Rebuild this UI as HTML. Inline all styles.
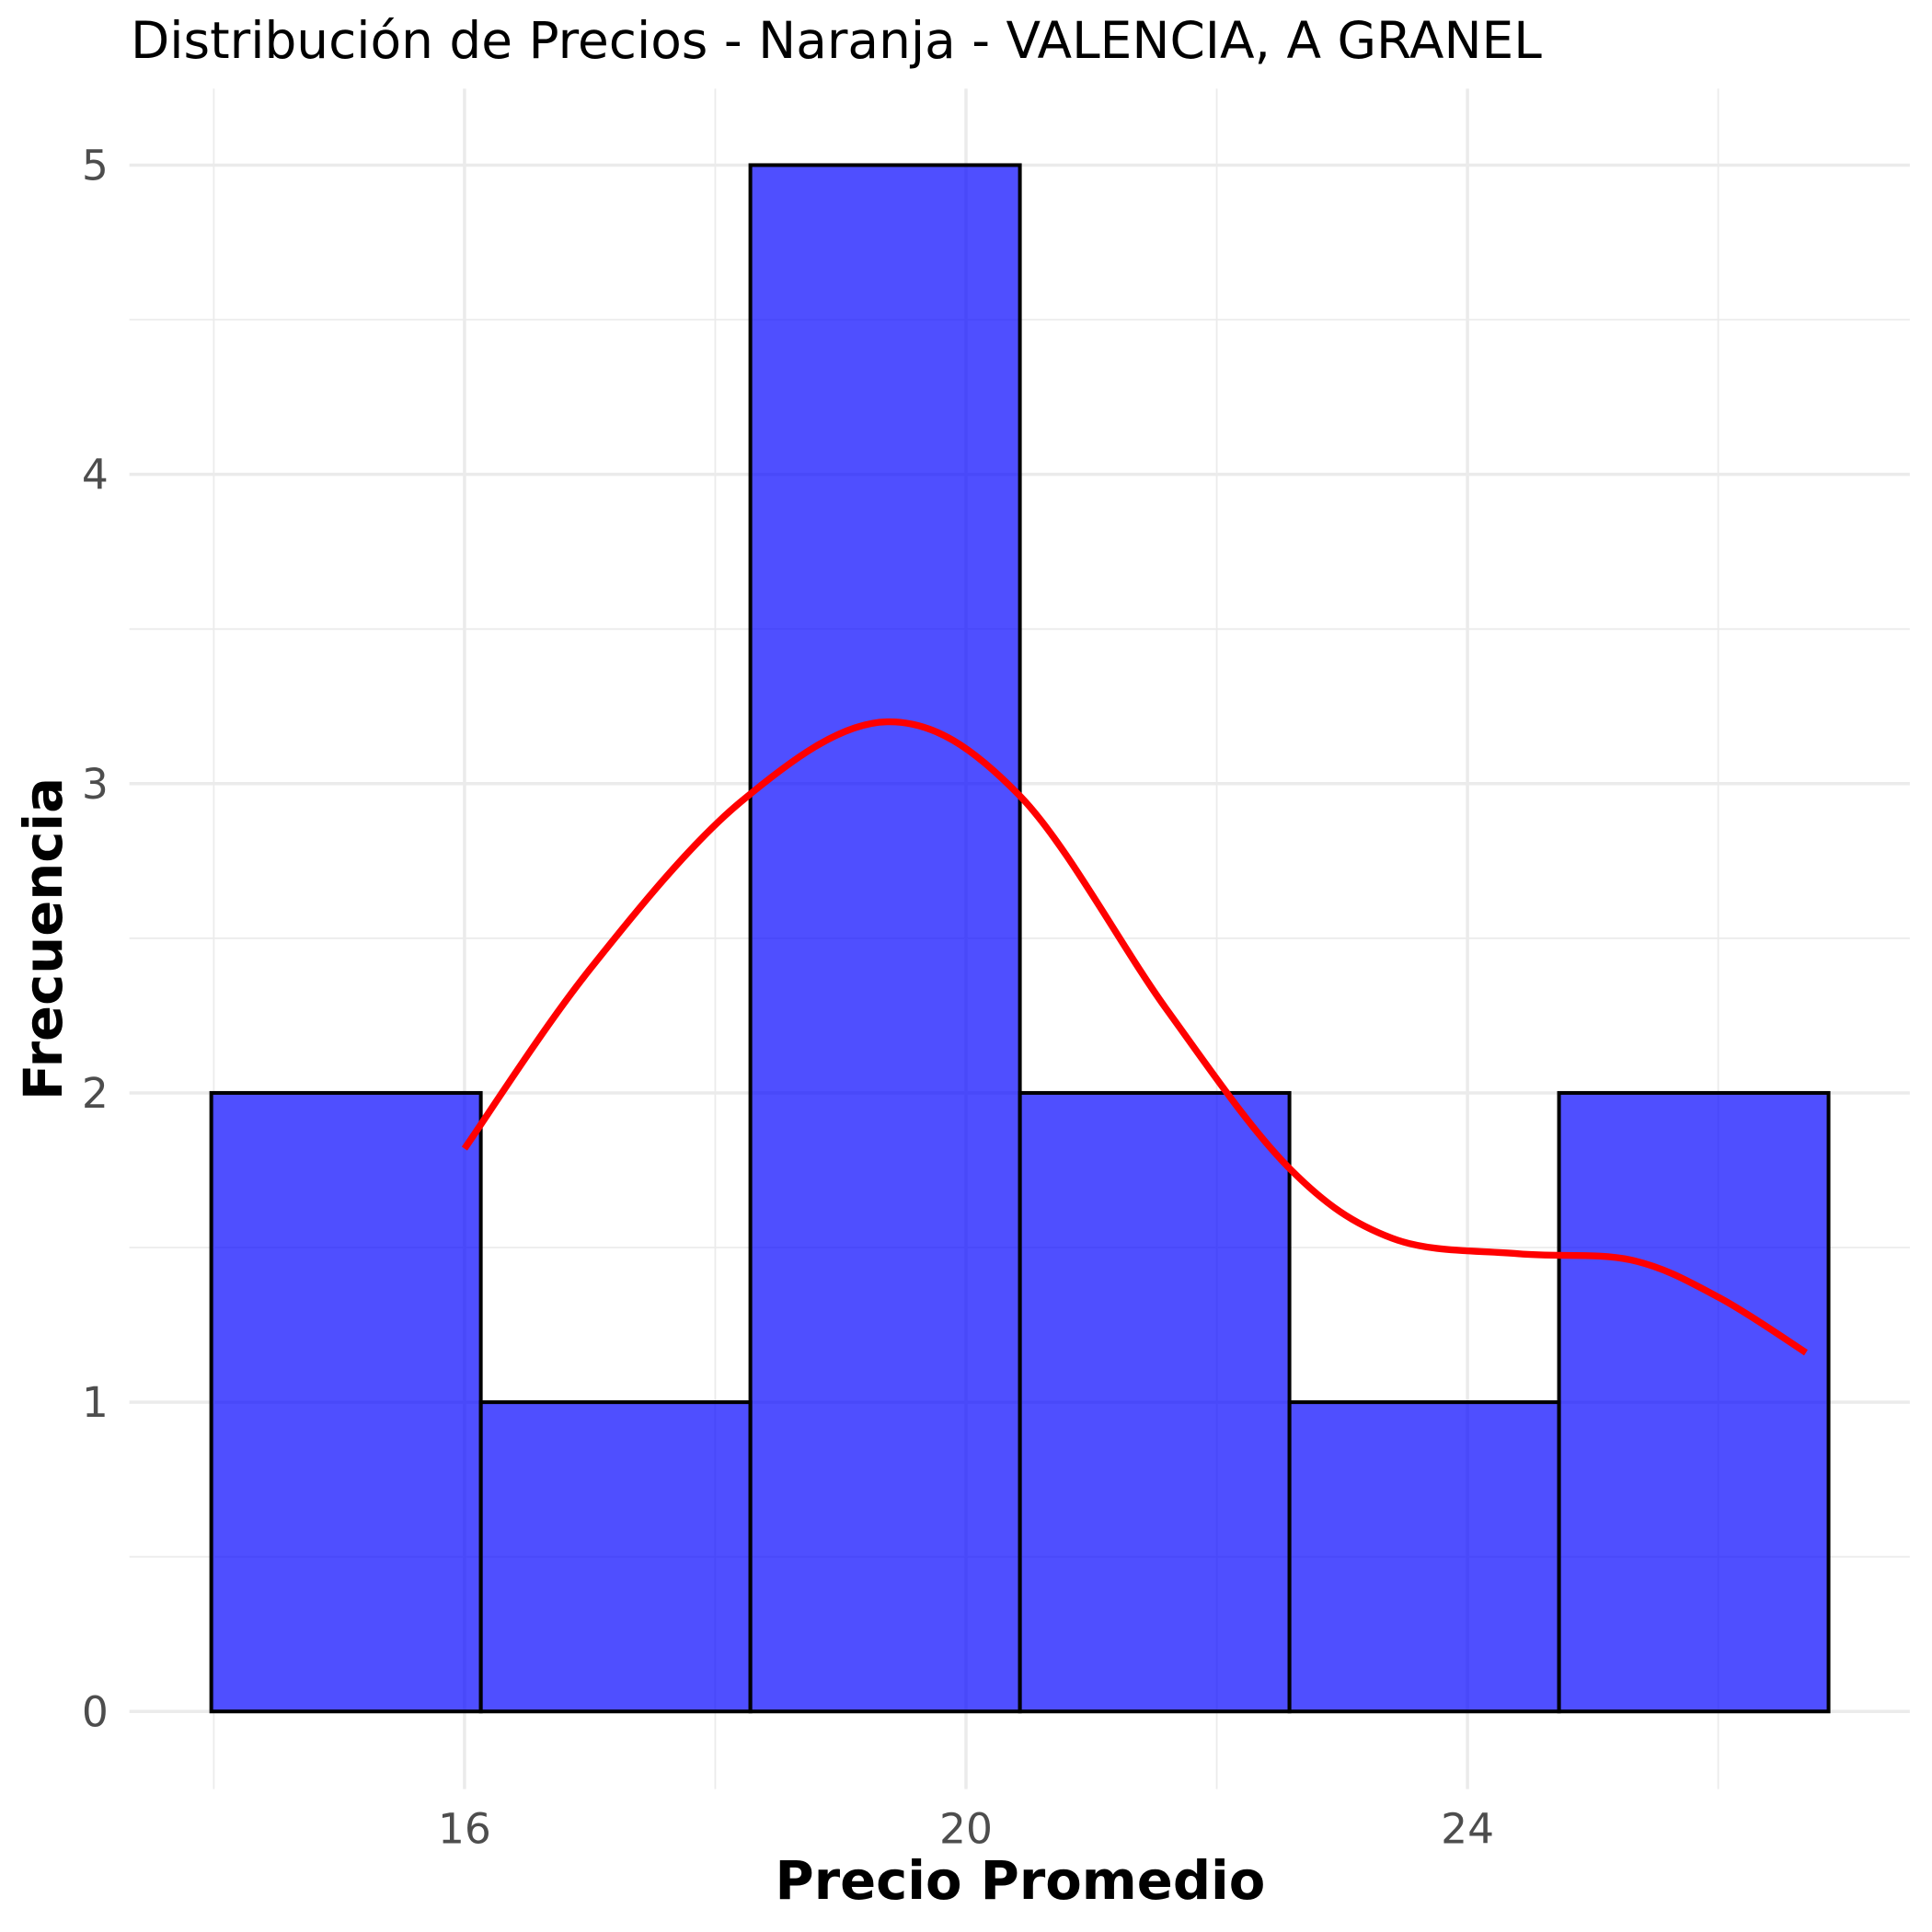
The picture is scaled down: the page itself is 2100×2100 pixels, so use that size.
<!DOCTYPE html>
<html><head><meta charset="utf-8"><style>
html,body{margin:0;padding:0;background:#fff;}
svg{display:block;font-family:"DejaVu Sans","Liberation Sans",sans-serif;}
</style></head><body>
<svg id="chart" width="2100" height="2100" viewBox="0 0 1568 1568" xmlns="http://www.w3.org/2000/svg">
<text x="106" y="47" font-size="41" fill="#000">Distribución de Precios - Naranja - VALENCIA, A GRANEL</text>
<g id="grid"></g>
<g id="bars"></g>
<g id="curve"></g>
<g id="ticks"></g>
<text x="828" y="1541" font-size="43" font-weight="bold" text-anchor="middle">Precio Promedio</text>
<text transform="translate(50,762) rotate(-90)" font-size="43" font-weight="bold" text-anchor="middle">Frecuencia</text>
</svg>
<script>
const binEdges = [13.98, 16.13, 18.28, 20.43, 22.58, 24.73, 26.88];
const counts = [2, 1, 5, 2, 1, 2];
const xTicks = [16, 20, 24];
const xMinor = [14, 18, 22, 26];
const yTicks = [0, 1, 2, 3, 4, 5];
const yMinor = [0.5, 1.5, 2.5, 3.5, 4.5];
const curveX = [16.0, 17.0, 18.2, 19.37, 20.43, 21.6, 22.57, 23.4, 24.4, 25.3, 26.0, 26.7];
const curveY = [1.82, 2.40, 2.94, 3.20, 2.96, 2.27, 1.76, 1.53, 1.48, 1.46, 1.34, 1.16];

const NS = "http://www.w3.org/2000/svg";
const xs = v => 377 + (v - 16) * (784 - 377) / 4;
const ys = v => 1389 - v * (1389 - 134) / 5;
const L = 105, R = 1550, T = 72, B = 1452;
function mk(tag, attrs, parent) {
  const e = document.createElementNS(NS, tag);
  for (const k in attrs) e.setAttribute(k, attrs[k]);
  parent.appendChild(e);
  return e;
}
const grid = document.getElementById('grid');
xMinor.forEach(v => {
  const l = mk('line', {x1: xs(v), x2: xs(v), y1: T, y2: B, stroke: '#ebebeb', 'stroke-width': 1.3}, grid);
  
  
});
yMinor.forEach(v => {
  const l = mk('line', {x1: L, x2: R, y1: ys(v), y2: ys(v), stroke: '#ebebeb', 'stroke-width': 1.3}, grid);
  
  
});
xTicks.forEach(v => {
  const l = mk('line', {x1: xs(v), x2: xs(v), y1: T, y2: B, stroke: '#ebebeb', 'stroke-width': 2.6}, grid);
  
  
});
yTicks.forEach(v => {
  const l = mk('line', {x1: L, x2: R, y1: ys(v), y2: ys(v), stroke: '#ebebeb', 'stroke-width': 2.6}, grid);
  
  
});
const bars = document.getElementById('bars');
counts.forEach((c, i) => {
  const x0 = xs(binEdges[i]), x1 = xs(binEdges[i + 1]);
  const r = mk('rect', {x: x0, y: ys(c), width: x1 - x0, height: ys(0) - ys(c), fill: 'rgba(0,0,255,0.69)', stroke: '#000', 'stroke-width': 3}, bars);
  
  
});
const curve = document.getElementById('curve');
const pts = curveX.map((v, i) => [xs(v), ys(curveY[i])]);
let d = 'M' + pts[0][0].toFixed(1) + ' ' + pts[0][1].toFixed(1);
for (let i = 0; i < pts.length - 1; i++) {
  const p0 = pts[Math.max(0, i - 1)], p1 = pts[i], p2 = pts[i + 1], p3 = pts[Math.min(pts.length - 1, i + 2)];
  const c1 = [p1[0] + (p2[0] - p0[0]) / 6, p1[1] + (p2[1] - p0[1]) / 6];
  const c2 = [p2[0] - (p3[0] - p1[0]) / 6, p2[1] - (p3[1] - p1[1]) / 6];
  d += ' C' + c1[0].toFixed(1) + ' ' + c1[1].toFixed(1) + ' ' + c2[0].toFixed(1) + ' ' + c2[1].toFixed(1) + ' ' + p2[0].toFixed(1) + ' ' + p2[1].toFixed(1);
}
const p = mk('path', {d: d, fill: 'none', stroke: '#ff0000', 'stroke-width': 5.5, 'stroke-linejoin': 'round'}, curve);


const ticks = document.getElementById('ticks');
xTicks.forEach(v => {
  const t = mk('text', {x: xs(v), y: 1496, 'font-size': 34, fill: '#4d4d4d', 'text-anchor': 'middle'}, ticks);
  t.textContent = v;
  
  
});
yTicks.forEach(v => {
  const t = mk('text', {x: 88, y: ys(v) + 12, 'font-size': 34, fill: '#4d4d4d', 'text-anchor': 'end'}, ticks);
  t.textContent = v;
  
  
});
</script>
</body></html>
